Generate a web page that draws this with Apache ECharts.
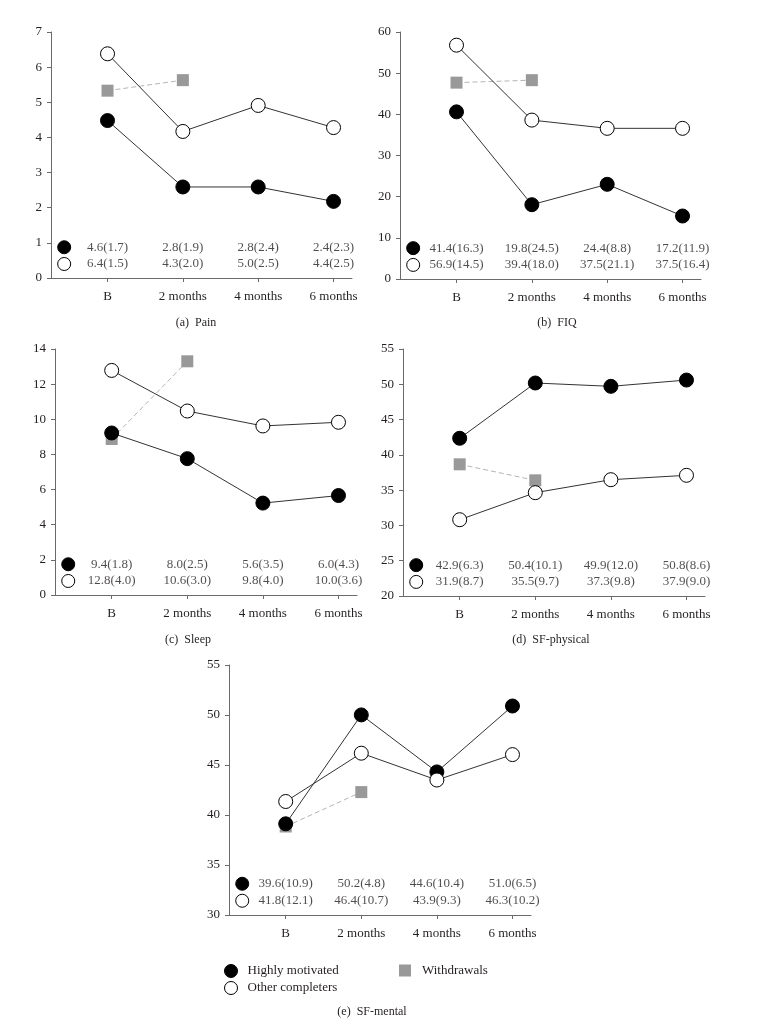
<!DOCTYPE html>
<html>
<head>
<meta charset="utf-8">
<script src="https://cdn.jsdelivr.net/npm/echarts@6/dist/echarts.min.js"></script>
<style>
html,body{margin:0;padding:0;background:#fff;}
#chart{width:778px;height:1028px;}
</style>
</head>
<body>
<div id="chart"></div>
<script>
// ---------- data ----------
var categories = ['B', '2 months', '4 months', '6 months'];
var seriesNames = ['Highly motivated', 'Other completers', 'Withdrawals'];

var painHigh = [4.48, 2.59, 2.59, 2.18];
var painOther = [6.38, 4.17, 4.91, 4.28];
var painWithdraw = [5.33, 5.63];
var painHighText = ['4.6(1.7)', '2.8(1.9)', '2.8(2.4)', '2.4(2.3)'];
var painOtherText = ['6.4(1.5)', '4.3(2.0)', '5.0(2.5)', '4.4(2.5)'];

var fiqHigh = [40.6, 18.05, 23.0, 15.3];
var fiqOther = [56.8, 38.6, 36.6, 36.6];
var fiqWithdraw = [47.7, 48.3];
var fiqHighText = ['41.4(16.3)', '19.8(24.5)', '24.4(8.8)', '17.2(11.9)'];
var fiqOtherText = ['56.9(14.5)', '39.4(18.0)', '37.5(21.1)', '37.5(16.4)'];

var sleepHigh = [9.22, 7.76, 5.23, 5.66];
var sleepOther = [12.78, 10.47, 9.62, 9.83];
var sleepWithdraw = [8.88, 13.3];
var sleepHighText = ['9.4(1.8)', '8.0(2.5)', '5.6(3.5)', '6.0(4.3)'];
var sleepOtherText = ['12.8(4.0)', '10.6(3.0)', '9.8(4.0)', '10.0(3.6)'];

var physHigh = [42.35, 50.18, 49.71, 50.6];
var physOther = [30.81, 34.64, 36.48, 37.1];
var physWithdraw = [38.66, 36.39];
var physHighText = ['42.9(6.3)', '50.4(10.1)', '49.9(12.0)', '50.8(8.6)'];
var physOtherText = ['31.9(8.7)', '35.5(9.7)', '37.3(9.8)', '37.9(9.0)'];

var mentHigh = [39.12, 50.01, 44.31, 50.9];
var mentOther = [41.35, 46.18, 43.5, 46.04];
var mentWithdraw = [38.85, 42.29];
var mentHighText = ['39.6(10.9)', '50.2(4.8)', '44.6(10.4)', '51.0(6.5)'];
var mentOtherText = ['41.8(12.1)', '46.4(10.7)', '43.9(9.3)', '46.3(10.2)'];

// y-axis ranges [min, max, interval]
var painRange = [0, 7, 1];
var fiqRange = [0, 60, 10];
var sleepRange = [0, 14, 2];
var physRange = [20, 55, 5];
var mentRange = [30, 55, 5];

var captions = ['(a)  Pain', '(b)  FIQ', '(c)  Sleep', '(d)  SF-physical', '(e)  SF-mental'];

// ---------- layout ----------
var FONT = '"Liberation Serif", "DejaVu Serif", serif';
var TXT = '#231f20';
var AX = '#6a6a6a';
var panels = [
  {grid: {left: 51, top: 32, width: 301, height: 246}, range: painRange, high: painHigh, other: painOther, wd: painWithdraw, ht: painHighText, ot: painOtherText, cap: [196, 323]},
  {grid: {left: 400, top: 32, width: 301, height: 247}, range: fiqRange, high: fiqHigh, other: fiqOther, wd: fiqWithdraw, ht: fiqHighText, ot: fiqOtherText, cap: [557, 323]},
  {grid: {left: 55, top: 349, width: 302, height: 246}, range: sleepRange, high: sleepHigh, other: sleepOther, wd: sleepWithdraw, ht: sleepHighText, ot: sleepOtherText, cap: [188, 640]},
  {grid: {left: 403, top: 349, width: 302, height: 247}, range: physRange, high: physHigh, other: physOther, wd: physWithdraw, ht: physHighText, ot: physOtherText, cap: [551, 640]},
  {grid: {left: 229, top: 665, width: 302, height: 250}, range: mentRange, high: mentHigh, other: mentOther, wd: mentWithdraw, ht: mentHighText, ot: mentOtherText, cap: [372, 1012]}
];
var XMIN = -0.75, XMAX = 3.245;
var ROW1 = 0.125, ROW2 = 0.057, MARKX = -0.575;

function pts(arr) { return arr.map(function (v, i) { return [i, v]; }); }

var grids = [], xAxes = [], yAxes = [], series = [], graphics = [];
panels.forEach(function (p, k) {
  grids.push(p.grid);
  xAxes.push({
    type: 'value', gridIndex: k, min: XMIN, max: XMAX,
    axisLine: {show: true, onZero: false, lineStyle: {color: AX, width: 1}},
    axisTick: {show: true, customValues: [0, 1, 2, 3], length: 4, lineStyle: {color: AX}},
    axisLabel: {customValues: [0, 1, 2, 3], margin: 12, fontFamily: FONT, fontSize: 13, color: TXT,
      formatter: function (v) { return categories[Math.round(v)]; }},
    splitLine: {show: false}
  });
  yAxes.push({
    type: 'value', gridIndex: k, min: p.range[0], max: p.range[1], interval: p.range[2],
    axisLine: {show: true, onZero: false, lineStyle: {color: AX, width: 1}},
    axisTick: {show: true, length: 4, lineStyle: {color: AX}},
    axisLabel: {margin: 9, fontFamily: FONT, fontSize: 13, color: TXT},
    splitLine: {show: false}
  });
  var span = p.range[1] - p.range[0];
  var y1 = p.range[0] + ROW1 * span, y2 = p.range[0] + ROW2 * span;
  series.push({
    name: seriesNames[2], type: 'line', xAxisIndex: k, yAxisIndex: k, data: pts(p.wd),
    symbol: 'rect', symbolSize: 12, z: 2,
    itemStyle: {color: '#999999', borderWidth: 0},
    lineStyle: {color: '#b5b5b5', width: 1, type: [5, 3]}
  });
  series.push({
    name: seriesNames[0], type: 'line', xAxisIndex: k, yAxisIndex: k, data: pts(p.high),
    symbol: 'circle', symbolSize: 14, z: 3,
    itemStyle: {color: '#000', borderColor: '#000', borderWidth: 1},
    lineStyle: {color: '#333', width: 1}
  });
  series.push({
    name: seriesNames[1], type: 'line', xAxisIndex: k, yAxisIndex: k, data: pts(p.other),
    symbol: 'circle', symbolSize: 14, z: 4,
    itemStyle: {color: '#fff', borderColor: '#000', borderWidth: 1},
    lineStyle: {color: '#333', width: 1}
  });
  // table rows
  function row(texts, y) {
    return {
      type: 'scatter', xAxisIndex: k, yAxisIndex: k, silent: true, z: 5,
      data: texts.map(function (t, i) { return [i, y, t]; }),
      symbol: 'circle', symbolSize: 1, itemStyle: {color: 'rgba(0,0,0,0)'},
      label: {show: true, position: 'inside', fontFamily: FONT, fontSize: 13, color: TXT,
        formatter: function (d) { return d.data[2]; }}
    };
  }
  series.push(row(p.ht, y1));
  series.push(row(p.ot, y2));
  series.push({
    type: 'scatter', xAxisIndex: k, yAxisIndex: k, silent: true, z: 5,
    data: [[MARKX, y1]], symbol: 'circle', symbolSize: 13,
    itemStyle: {color: '#000', borderColor: '#000', borderWidth: 1, opacity: 1}
  });
  series.push({
    type: 'scatter', xAxisIndex: k, yAxisIndex: k, silent: true, z: 5,
    data: [[MARKX, y2]], symbol: 'circle', symbolSize: 13,
    itemStyle: {color: '#fff', borderColor: '#000', borderWidth: 1, opacity: 1}
  });
  graphics.push({
    type: 'text', x: p.cap[0], y: p.cap[1],
    style: {text: captions[k], font: '12px ' + FONT, fill: TXT, textAlign: 'center', textVerticalAlign: 'middle'}
  });
});

var chart = echarts.init(document.getElementById('chart'), null, {renderer: 'canvas'});
chart.setOption({
  animation: false,
  backgroundColor: '#fff',
  grid: grids,
  xAxis: xAxes,
  yAxis: yAxes,
  series: series,
  graphic: graphics,
  legend: [
    {
      orient: 'vertical', left: 219, top: 959, itemWidth: 13, itemHeight: 13, itemGap: 3,
      textStyle: {fontFamily: FONT, fontSize: 13, color: TXT, padding: [0, 0, 0, 5]},
      data: [
        {name: seriesNames[0], icon: 'circle', itemStyle: {color: '#000', borderColor: '#000', borderWidth: 1}},
        {name: seriesNames[1], icon: 'circle', itemStyle: {color: '#fff', borderColor: '#000', borderWidth: 1}}
      ],
      selectedMode: false
    },
    {
      orient: 'vertical', left: 394, top: 959, itemWidth: 12, itemHeight: 12, itemGap: 3,
      textStyle: {fontFamily: FONT, fontSize: 13, color: TXT, padding: [0, 0, 0, 6]},
      data: [{name: seriesNames[2], icon: 'rect', itemStyle: {color: '#999999', borderWidth: 0}}],
      selectedMode: false
    }
  ]
});
</script>
</body>
</html>
